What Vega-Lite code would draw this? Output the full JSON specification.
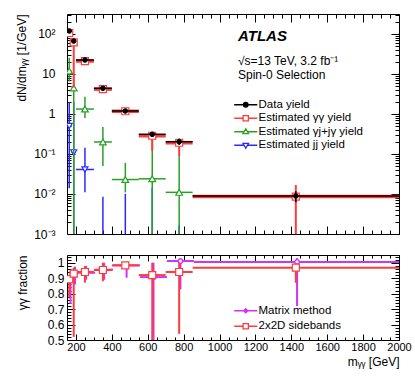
{
  "$schema": "https://vega.github.io/schema/vega-lite/v6.json",
  "background": "white",
  "padding": {"left": 14, "top": 13, "right": 21, "bottom": 5},
  "spacing": 13,
  "resolve": {"scale": {"shape": "independent", "stroke": "independent", "fill": "independent"}, "legend": {"shape": "independent", "stroke": "independent", "fill": "independent"}},
  "config": {
    "font": "Liberation Sans",
    "view": {"stroke": "black", "strokeWidth": 1},
    "axis": {"domain": false, "grid": false, "labelFont": "Liberation Sans", "labelFontSize": 12, "labelColor": "black", "tickColor": "black", "tickWidth": 1, "titleFont": "Liberation Sans", "titleFontSize": 12, "titleFontWeight": "normal", "titleColor": "black", "labelFlush": false, "labelOverlap": false}
  },
  "datasets": {
    "yields": [
      {"s": "Data yield", "x": 162.5, "xlo": 150, "xhi": 175, "y": 119, "ylo": 116, "yhi": 122},
      {"s": "Data yield", "x": 187.5, "xlo": 175, "xhi": 200, "y": 66.8, "ylo": 65.1, "yhi": 68.5},
      {"s": "Data yield", "x": 250, "xlo": 200, "xhi": 300, "y": 22.4, "ylo": 21.9, "yhi": 22.9},
      {"s": "Data yield", "x": 350, "xlo": 300, "xhi": 400, "y": 4.39, "ylo": 4.18, "yhi": 4.6},
      {"s": "Data yield", "x": 475, "xlo": 400, "xhi": 550, "y": 1.19, "ylo": 1.1, "yhi": 1.28},
      {"s": "Data yield", "x": 625, "xlo": 550, "xhi": 700, "y": 0.311, "ylo": 0.265, "yhi": 0.357},
      {"s": "Data yield", "x": 775, "xlo": 700, "xhi": 850, "y": 0.203, "ylo": 0.167, "yhi": 0.24},
      {"s": "Data yield", "x": 1425, "xlo": 850, "xhi": 2000, "y": 0.0089, "ylo": 0.0062, "yhi": 0.0117},
      {"s": "Estimated γγ yield", "x": 162.5, "xlo": 150, "xhi": 175, "y": 106, "ylo": 92, "yhi": 110},
      {"s": "Estimated γγ yield", "x": 187.5, "xlo": 175, "xhi": 200, "y": 62, "ylo": 4.6, "yhi": 64.6},
      {"s": "Estimated γγ yield", "x": 250, "xlo": 200, "xhi": 300, "y": 21.1, "ylo": 19.5, "yhi": 21.9},
      {"s": "Estimated γγ yield", "x": 350, "xlo": 300, "xhi": 400, "y": 4.18, "ylo": 3.86, "yhi": 4.39},
      {"s": "Estimated γγ yield", "x": 475, "xlo": 400, "xhi": 550, "y": 1.17, "ylo": 1.15, "yhi": 1.19},
      {"s": "Estimated γγ yield", "x": 625, "xlo": 550, "xhi": 700, "y": 0.286, "ylo": 0.12, "yhi": 0.311},
      {"s": "Estimated γγ yield", "x": 775, "xlo": 700, "xhi": 850, "y": 0.191, "ylo": 0.09, "yhi": 0.203},
      {"s": "Estimated γγ yield", "x": 1425, "xlo": 850, "xhi": 2000, "y": 0.0086, "ylo": 0.0001, "yhi": 0.0168},
      {"s": "Estimated γj+jγ yield", "x": 162.5, "xlo": 150, "xhi": 175, "y": 11.9, "ylo": 6.5, "yhi": 25.6},
      {"s": "Estimated γj+jγ yield", "x": 187.5, "xlo": 175, "xhi": 200, "y": 4.5, "ylo": 0.0001, "yhi": 9},
      {"s": "Estimated γj+jγ yield", "x": 250, "xlo": 200, "xhi": 300, "y": 1.33, "ylo": 0.79, "yhi": 2.7},
      {"s": "Estimated γj+jγ yield", "x": 350, "xlo": 300, "xhi": 400, "y": 0.2, "ylo": 0.05, "yhi": 0.47},
      {"s": "Estimated γj+jγ yield", "x": 475, "xlo": 400, "xhi": 550, "y": 0.023, "ylo": 0.011, "yhi": 0.06},
      {"s": "Estimated γj+jγ yield", "x": 625, "xlo": 550, "xhi": 700, "y": 0.024, "ylo": 0.0001, "yhi": 0.3},
      {"s": "Estimated γj+jγ yield", "x": 775, "xlo": 700, "xhi": 850, "y": 0.011, "ylo": 0.0001, "yhi": 0.094},
      {"s": "Estimated jj yield", "x": 162.5, "xlo": 150, "xhi": 175, "y": 0.5, "ylo": 0.014, "yhi": 2.0},
      {"s": "Estimated jj yield", "x": 187.5, "xlo": 175, "xhi": 200, "y": 0.11, "ylo": 0.0001, "yhi": 2.0},
      {"s": "Estimated jj yield", "x": 250, "xlo": 200, "xhi": 300, "y": 0.041, "ylo": 0.011, "yhi": 0.144},
      {"s": "Estimated jj yield", "x": 350, "xlo": 300, "xhi": 400, "y": 0.0003, "ylo": 0.0001, "yhi": 0.0085},
      {"s": "Estimated jj yield", "x": 475, "xlo": 400, "xhi": 550, "y": 0.0003, "ylo": 0.0001, "yhi": 0.0101},
      {"s": "Estimated jj yield", "x": 625, "xlo": 550, "xhi": 700, "y": 0.0003, "ylo": 0.0001, "yhi": 0.0144},
      {"s": "Estimated jj yield", "x": 775, "xlo": 700, "xhi": 850, "y": 0.0003, "ylo": 0.0001, "yhi": 0.0016}
    ],
    "frac": [
      {"s": "2x2D sidebands", "x": 162.5, "xlo": 150, "xhi": 175, "y": 0.893, "ylo": 0.774, "yhi": 0.92},
      {"s": "2x2D sidebands", "x": 187.5, "xlo": 175, "xhi": 200, "y": 0.929, "ylo": 0.52, "yhi": 0.968},
      {"s": "2x2D sidebands", "x": 250, "xlo": 200, "xhi": 300, "y": 0.94, "ylo": 0.871, "yhi": 0.979},
      {"s": "2x2D sidebands", "x": 350, "xlo": 300, "xhi": 400, "y": 0.953, "ylo": 0.88, "yhi": 1.0},
      {"s": "2x2D sidebands", "x": 475, "xlo": 400, "xhi": 550, "y": 0.983, "ylo": 0.97, "yhi": 0.995},
      {"s": "2x2D sidebands", "x": 625, "xlo": 550, "xhi": 700, "y": 0.92, "ylo": 0.3, "yhi": 1.0},
      {"s": "2x2D sidebands", "x": 775, "xlo": 700, "xhi": 850, "y": 0.94, "ylo": 0.54, "yhi": 1.0},
      {"s": "2x2D sidebands", "x": 1425, "xlo": 850, "xhi": 2000, "y": 0.968, "ylo": 0.87, "yhi": 0.998},
      {"s": "Matrix method", "x": 169.5, "xlo": 157, "xhi": 182, "y": 0.89, "ylo": 0.733, "yhi": 0.946},
      {"s": "Matrix method", "x": 194.5, "xlo": 182, "xhi": 207, "y": 0.93, "ylo": 0.86, "yhi": 0.975},
      {"s": "Matrix method", "x": 257, "xlo": 207, "xhi": 307, "y": 0.935, "ylo": 0.89, "yhi": 0.98},
      {"s": "Matrix method", "x": 357, "xlo": 307, "xhi": 407, "y": 0.955, "ylo": 0.89, "yhi": 1.0},
      {"s": "Matrix method", "x": 482, "xlo": 407, "xhi": 557, "y": 0.983, "ylo": 0.903, "yhi": 1.0},
      {"s": "Matrix method", "x": 632, "xlo": 557, "xhi": 707, "y": 0.907, "ylo": 0.3, "yhi": 1.0},
      {"s": "Matrix method", "x": 782, "xlo": 707, "xhi": 857, "y": 1.011, "ylo": 0.828, "yhi": 1.03},
      {"s": "Matrix method", "x": 1432, "xlo": 857, "xhi": 2000, "y": 1.005, "ylo": 0.72, "yhi": 1.03}
    ]
  },
  "vconcat": [
    {
      "width": 332,
      "height": 220,
      "title": {"text": "ATLAS", "subtitle": ["√s=13 TeV, 3.2 fb⁻¹", "Spin-0 Selection"], "anchor": "start", "frame": "group", "orient": "top", "dx": 171, "offset": -67, "font": "Liberation Sans", "fontSize": 15, "fontStyle": "italic", "fontWeight": "bold", "color": "black", "subtitleFont": "Liberation Sans", "subtitleFontSize": 12, "subtitleColor": "black", "subtitleLineHeight": 14, "subtitlePadding": 12},
      "data": {"name": "yields"},
      "resolve": {"axis": {"x": "independent", "y": "independent"}},
      "layer": [
        {
          "transform": [{"filter": "datum.s == 'Estimated jj yield'"}],
          "mark": {"type": "rule", "color": "#2a2aff", "strokeWidth": 1.5, "clip": true},
          "encoding": {
            "x": {"field": "xlo", "type": "quantitative", "scale": {"type": "linear", "domain": [150, 2000], "nice": false, "zero": false}, "axis": {"orient": "bottom", "offset": 0, "values": [200, 400, 600, 800, 1000, 1200, 1400, 1600, 1800, 2000], "labels": false, "tickSize": -8, "title": null}},
            "x2": {"field": "xhi"},
            "y": {"field": "y", "type": "quantitative", "scale": {"type": "log", "domain": [0.001, 316.2], "nice": false}, "axis": {"orient": "left", "offset": 0, "values": [0.001, 0.01, 0.1, 1, 10, 100], "labelExpr": "datum.value < 0.002 ? '10⁻³' : datum.value < 0.02 ? '10⁻²' : datum.value < 0.2 ? '10⁻¹' : datum.value < 2 ? '1' : datum.value < 20 ? '10' : '10²'", "tickSize": -8, "labelPadding": 20, "title": "dN/dmᵧᵧ [1/GeV]", "titleX": -46, "titleY": 0, "titleAlign": "right", "titleAngle": -90, "titleBaseline": "middle"}}
          }
        },
        {
          "transform": [{"filter": "datum.s == 'Estimated jj yield'"}],
          "mark": {"type": "rule", "color": "#2a2aff", "strokeWidth": 1.5, "clip": true},
          "encoding": {
            "x": {"field": "x", "type": "quantitative", "scale": {"type": "linear", "domain": [150, 2000], "nice": false, "zero": false}, "axis": {"orient": "bottom", "offset": 0, "values": [200, 250, 300, 350, 400, 450, 500, 550, 600, 650, 700, 750, 800, 850, 900, 950, 1000, 1050, 1100, 1150, 1200, 1250, 1300, 1350, 1400, 1450, 1500, 1550, 1600, 1650, 1700, 1750, 1800, 1850, 1900, 1950, 2000], "labels": false, "tickSize": -4, "title": null}},
            "y": {"field": "ylo", "type": "quantitative", "scale": {"type": "log", "domain": [0.001, 316.2], "nice": false}, "axis": {"orient": "left", "offset": 0, "values": [0.002, 0.003, 0.004, 0.005, 0.006, 0.007, 0.008, 0.009, 0.02, 0.03, 0.04, 0.05, 0.06, 0.07, 0.08, 0.09, 0.2, 0.3, 0.4, 0.5, 0.6, 0.7, 0.8, 0.9, 2, 3, 4, 5, 6, 7, 8, 9, 20, 30, 40, 50, 60, 70, 80, 90, 200, 300], "labels": false, "tickSize": -4, "title": null}},
            "y2": {"field": "yhi"}
          }
        },
        {
          "transform": [{"filter": "datum.s == 'Estimated jj yield'"}],
          "mark": {"type": "point", "shape": "triangle-down", "size": 36, "filled": true, "fill": "white", "stroke": "#2a2aff", "strokeWidth": 1.2, "opacity": 1, "clip": true},
          "encoding": {
            "x": {"field": "x", "type": "quantitative", "scale": {"type": "linear", "domain": [150, 2000], "nice": false, "zero": false}, "axis": {"orient": "top", "offset": 0, "values": [200, 400, 600, 800, 1000, 1200, 1400, 1600, 1800, 2000], "labels": false, "tickSize": -8, "title": null}},
            "y": {"field": "y", "type": "quantitative", "scale": {"type": "log", "domain": [0.001, 316.2], "nice": false}, "axis": {"orient": "right", "offset": 0, "values": [0.001, 0.01, 0.1, 1, 10, 100], "labels": false, "tickSize": -8, "title": null}}
          }
        },
        {
          "transform": [{"filter": "datum.s == 'Estimated γj+jγ yield'"}],
          "mark": {"type": "rule", "color": "#28a028", "strokeWidth": 1.5, "clip": true},
          "encoding": {
            "x": {"field": "xlo", "type": "quantitative", "scale": {"type": "linear", "domain": [150, 2000], "nice": false, "zero": false}, "axis": {"orient": "top", "offset": 0, "values": [200, 250, 300, 350, 400, 450, 500, 550, 600, 650, 700, 750, 800, 850, 900, 950, 1000, 1050, 1100, 1150, 1200, 1250, 1300, 1350, 1400, 1450, 1500, 1550, 1600, 1650, 1700, 1750, 1800, 1850, 1900, 1950, 2000], "labels": false, "tickSize": -4, "title": null}},
            "x2": {"field": "xhi"},
            "y": {"field": "y", "type": "quantitative", "scale": {"type": "log", "domain": [0.001, 316.2], "nice": false}, "axis": {"orient": "right", "offset": 0, "values": [0.002, 0.003, 0.004, 0.005, 0.006, 0.007, 0.008, 0.009, 0.02, 0.03, 0.04, 0.05, 0.06, 0.07, 0.08, 0.09, 0.2, 0.3, 0.4, 0.5, 0.6, 0.7, 0.8, 0.9, 2, 3, 4, 5, 6, 7, 8, 9, 20, 30, 40, 50, 60, 70, 80, 90, 200, 300], "labels": false, "tickSize": -4, "title": null}}
          }
        },
        {
          "transform": [{"filter": "datum.s == 'Estimated γj+jγ yield'"}],
          "mark": {"type": "rule", "color": "#28a028", "strokeWidth": 1.5, "clip": true},
          "encoding": {
            "x": {"field": "x", "type": "quantitative", "scale": {"type": "linear", "domain": [150, 2000], "nice": false, "zero": false}, "axis": null},
            "y": {"field": "ylo", "type": "quantitative", "scale": {"type": "log", "domain": [0.001, 316.2], "nice": false}, "axis": null},
            "y2": {"field": "yhi"}
          }
        },
        {
          "transform": [{"filter": "datum.s == 'Estimated γj+jγ yield'"}],
          "mark": {"type": "point", "shape": "triangle-up", "size": 45, "filled": true, "fill": "white", "stroke": "#28a028", "strokeWidth": 1.2, "opacity": 1, "clip": true},
          "encoding": {
            "x": {"field": "x", "type": "quantitative", "scale": {"type": "linear", "domain": [150, 2000], "nice": false, "zero": false}, "axis": null},
            "y": {"field": "y", "type": "quantitative", "scale": {"type": "log", "domain": [0.001, 316.2], "nice": false}, "axis": null}
          }
        },
        {
          "transform": [{"filter": "datum.s == 'Estimated γγ yield'"}],
          "mark": {"type": "rule", "color": "#ff3c3c", "strokeWidth": 3.5, "clip": true},
          "encoding": {
            "x": {"field": "xlo", "type": "quantitative", "scale": {"type": "linear", "domain": [150, 2000], "nice": false, "zero": false}, "axis": null},
            "x2": {"field": "xhi"},
            "y": {"field": "y", "type": "quantitative", "scale": {"type": "log", "domain": [0.001, 316.2], "nice": false}, "axis": null}
          }
        },
        {
          "transform": [{"filter": "datum.s == 'Estimated γγ yield'"}],
          "mark": {"type": "rule", "color": "#ff3c3c", "strokeWidth": 2, "clip": true},
          "encoding": {
            "x": {"field": "x", "type": "quantitative", "scale": {"type": "linear", "domain": [150, 2000], "nice": false, "zero": false}, "axis": null},
            "y": {"field": "ylo", "type": "quantitative", "scale": {"type": "log", "domain": [0.001, 316.2], "nice": false}, "axis": null},
            "y2": {"field": "yhi"}
          }
        },
        {
          "transform": [{"filter": "datum.s == 'Estimated γγ yield'"}],
          "mark": {"type": "point", "shape": "square", "size": 49, "filled": true, "fill": "white", "stroke": "#ff3c3c", "strokeWidth": 1.2, "opacity": 1, "clip": true},
          "encoding": {
            "x": {"field": "x", "type": "quantitative", "scale": {"type": "linear", "domain": [150, 2000], "nice": false, "zero": false}, "axis": null},
            "y": {"field": "y", "type": "quantitative", "scale": {"type": "log", "domain": [0.001, 316.2], "nice": false}, "axis": null}
          }
        },
        {
          "transform": [{"filter": "datum.s == 'Data yield'"}],
          "mark": {"type": "rule", "color": "black", "strokeWidth": 1.5, "clip": true},
          "encoding": {
            "x": {"field": "xlo", "type": "quantitative", "scale": {"type": "linear", "domain": [150, 2000], "nice": false, "zero": false}, "axis": null},
            "x2": {"field": "xhi"},
            "y": {"field": "y", "type": "quantitative", "scale": {"type": "log", "domain": [0.001, 316.2], "nice": false}, "axis": null}
          }
        },
        {
          "transform": [{"filter": "datum.s == 'Data yield'"}],
          "mark": {"type": "rule", "color": "black", "strokeWidth": 1.5, "clip": true},
          "encoding": {
            "x": {"field": "x", "type": "quantitative", "scale": {"type": "linear", "domain": [150, 2000], "nice": false, "zero": false}, "axis": null},
            "y": {"field": "ylo", "type": "quantitative", "scale": {"type": "log", "domain": [0.001, 316.2], "nice": false}, "axis": null},
            "y2": {"field": "yhi"}
          }
        },
        {
          "transform": [{"filter": "datum.s == 'Data yield'"}],
          "mark": {"type": "point", "shape": "circle", "size": 22, "filled": true, "fill": "black", "stroke": "black", "strokeWidth": 1, "opacity": 1, "clip": true},
          "encoding": {
            "x": {"field": "x", "type": "quantitative", "scale": {"type": "linear", "domain": [150, 2000], "nice": false, "zero": false}, "axis": null},
            "y": {"field": "y", "type": "quantitative", "scale": {"type": "log", "domain": [0.001, 316.2], "nice": false}, "axis": null}
          }
        },
        {
          "transform": [{"filter": "false"}],
          "mark": {"type": "point", "filled": true, "opacity": 1, "strokeWidth": 1.3},
          "encoding": {
            "x": {"field": "x", "type": "quantitative", "scale": {"type": "linear", "domain": [150, 2000], "nice": false, "zero": false}, "axis": null},
            "y": {"field": "y", "type": "quantitative", "scale": {"type": "log", "domain": [0.001, 316.2], "nice": false}, "axis": null},
            "shape": {"field": "s", "type": "nominal", "scale": {"domain": ["Data yield", "Estimated γγ yield", "Estimated γj+jγ yield", "Estimated jj yield"], "range": ["M-3.3,0H3.3M0.65,0A0.65,0.65,0,1,1,-0.65,0A0.65,0.65,0,1,1,0.65,0Z", "M-3.3,0H-0.75M0.75,0H3.3M-0.75,-0.75H0.75V0.75H-0.75Z", "M-3.3,0H-0.45M0.45,0H3.3M0,-0.85L0.8,0.55H-0.8Z", "M-3.3,0H-0.45M0.45,0H3.3M0,0.85L0.8,-0.55H-0.8Z"]}, "legend": {"orient": "none", "legendX": 173, "legendY": 85, "title": null, "symbolSize": 49, "symbolStrokeWidth": 1.3, "labelFont": "Liberation Sans", "labelFontSize": 11.5, "labelColor": "black", "labelOffset": 7, "rowPadding": 0.5, "labelLimit": 300, "padding": 0}},
            "stroke": {"field": "s", "type": "nominal", "scale": {"domain": ["Data yield", "Estimated γγ yield", "Estimated γj+jγ yield", "Estimated jj yield"], "range": ["black", "#ff3c3c", "#28a028", "#2a2aff"]}, "legend": {"orient": "none", "legendX": 173, "legendY": 85, "title": null, "symbolSize": 49, "symbolStrokeWidth": 1.3, "labelFont": "Liberation Sans", "labelFontSize": 11.5, "labelColor": "black", "labelOffset": 7, "rowPadding": 0.5, "labelLimit": 300, "padding": 0}},
            "fill": {"field": "s", "type": "nominal", "scale": {"domain": ["Data yield", "Estimated γγ yield", "Estimated γj+jγ yield", "Estimated jj yield"], "range": ["black", "white", "white", "white"]}, "legend": {"orient": "none", "legendX": 173, "legendY": 85, "title": null, "symbolSize": 49, "symbolStrokeWidth": 1.3, "labelFont": "Liberation Sans", "labelFontSize": 11.5, "labelColor": "black", "labelOffset": 7, "rowPadding": 0.5, "labelLimit": 300, "padding": 0}}
          }
        }
      ]
    },
    {
      "width": 332,
      "height": 85,
      "data": {"name": "frac"},
      "resolve": {"axis": {"x": "independent", "y": "independent"}},
      "layer": [
        {
          "transform": [{"filter": "datum.s == 'Matrix method'"}],
          "mark": {"type": "rule", "color": "#cc33ff", "strokeWidth": 2, "clip": true},
          "encoding": {
            "x": {"field": "xlo", "type": "quantitative", "scale": {"type": "linear", "domain": [150, 2000], "nice": false, "zero": false}, "axis": {"orient": "bottom", "offset": 0, "values": [200, 400, 600, 800, 1000, 1200, 1400, 1600, 1800, 2000], "format": "d", "labelFontSize": 11, "tickSize": -6, "labelPadding": 7, "title": "mᵧᵧ [GeV]", "titleX": 332, "titleY": 25, "titleAlign": "right", "titleBaseline": "alphabetic"}},
            "x2": {"field": "xhi"},
            "y": {"field": "y", "type": "quantitative", "scale": {"type": "linear", "domain": [0.5, 1.05], "nice": false, "zero": false}, "axis": {"orient": "left", "offset": 0, "values": [0.5, 0.6, 0.7, 0.8, 0.9, 1], "format": "~g", "tickSize": -8, "labelPadding": 11, "title": "γγ fraction", "titleX": -45, "titleY": 0, "titleAlign": "right", "titleAngle": -90, "titleBaseline": "middle"}}
          }
        },
        {
          "transform": [{"filter": "datum.s == 'Matrix method'"}],
          "mark": {"type": "rule", "color": "#cc33ff", "strokeWidth": 2, "clip": true},
          "encoding": {
            "x": {"field": "x", "type": "quantitative", "scale": {"type": "linear", "domain": [150, 2000], "nice": false, "zero": false}, "axis": {"orient": "bottom", "offset": 0, "values": [200, 250, 300, 350, 400, 450, 500, 550, 600, 650, 700, 750, 800, 850, 900, 950, 1000, 1050, 1100, 1150, 1200, 1250, 1300, 1350, 1400, 1450, 1500, 1550, 1600, 1650, 1700, 1750, 1800, 1850, 1900, 1950, 2000], "labels": false, "tickSize": -3, "title": null}},
            "y": {"field": "ylo", "type": "quantitative", "scale": {"type": "linear", "domain": [0.5, 1.05], "nice": false, "zero": false}, "axis": {"orient": "left", "offset": 0, "values": [0.52, 0.54, 0.56, 0.58, 0.6, 0.62, 0.64, 0.66, 0.68, 0.7, 0.72, 0.74, 0.76, 0.78, 0.8, 0.82, 0.84, 0.86, 0.88, 0.9, 0.92, 0.94, 0.96, 0.98, 1, 1.02, 1.04], "labels": false, "tickSize": -4, "title": null}},
            "y2": {"field": "yhi"}
          }
        },
        {
          "transform": [{"filter": "datum.s == 'Matrix method'"}],
          "mark": {"type": "point", "shape": "circle", "size": 20, "filled": true, "fill": "white", "stroke": "#cc33ff", "strokeWidth": 1.2, "opacity": 1, "clip": true},
          "encoding": {
            "x": {"field": "x", "type": "quantitative", "scale": {"type": "linear", "domain": [150, 2000], "nice": false, "zero": false}, "axis": {"orient": "top", "offset": 0, "values": [200, 400, 600, 800, 1000, 1200, 1400, 1600, 1800, 2000], "labels": false, "tickSize": -6, "title": null}},
            "y": {"field": "y", "type": "quantitative", "scale": {"type": "linear", "domain": [0.5, 1.05], "nice": false, "zero": false}, "axis": {"orient": "right", "offset": 0, "values": [0.5, 0.6, 0.7, 0.8, 0.9, 1], "labels": false, "tickSize": -8, "title": null}}
          }
        },
        {
          "transform": [{"filter": "datum.s == '2x2D sidebands'"}],
          "mark": {"type": "rule", "color": "#ff3c3c", "strokeWidth": 2, "clip": true},
          "encoding": {
            "x": {"field": "xlo", "type": "quantitative", "scale": {"type": "linear", "domain": [150, 2000], "nice": false, "zero": false}, "axis": {"orient": "top", "offset": 0, "values": [200, 250, 300, 350, 400, 450, 500, 550, 600, 650, 700, 750, 800, 850, 900, 950, 1000, 1050, 1100, 1150, 1200, 1250, 1300, 1350, 1400, 1450, 1500, 1550, 1600, 1650, 1700, 1750, 1800, 1850, 1900, 1950, 2000], "labels": false, "tickSize": -3, "title": null}},
            "x2": {"field": "xhi"},
            "y": {"field": "y", "type": "quantitative", "scale": {"type": "linear", "domain": [0.5, 1.05], "nice": false, "zero": false}, "axis": {"orient": "right", "offset": 0, "values": [0.52, 0.54, 0.56, 0.58, 0.6, 0.62, 0.64, 0.66, 0.68, 0.7, 0.72, 0.74, 0.76, 0.78, 0.8, 0.82, 0.84, 0.86, 0.88, 0.9, 0.92, 0.94, 0.96, 0.98, 1, 1.02, 1.04], "labels": false, "tickSize": -4, "title": null}}
          }
        },
        {
          "transform": [{"filter": "datum.s == '2x2D sidebands'"}],
          "mark": {"type": "rule", "color": "#ff3c3c", "strokeWidth": 2, "clip": true},
          "encoding": {
            "x": {"field": "x", "type": "quantitative", "scale": {"type": "linear", "domain": [150, 2000], "nice": false, "zero": false}, "axis": null},
            "y": {"field": "ylo", "type": "quantitative", "scale": {"type": "linear", "domain": [0.5, 1.05], "nice": false, "zero": false}, "axis": null},
            "y2": {"field": "yhi"}
          }
        },
        {
          "transform": [{"filter": "datum.s == '2x2D sidebands'"}],
          "mark": {"type": "point", "shape": "square", "size": 49, "filled": true, "fill": "white", "stroke": "#ff3c3c", "strokeWidth": 1.2, "opacity": 1, "clip": true},
          "encoding": {
            "x": {"field": "x", "type": "quantitative", "scale": {"type": "linear", "domain": [150, 2000], "nice": false, "zero": false}, "axis": null},
            "y": {"field": "y", "type": "quantitative", "scale": {"type": "linear", "domain": [0.5, 1.05], "nice": false, "zero": false}, "axis": null}
          }
        },
        {
          "transform": [{"filter": "false"}],
          "mark": {"type": "point", "filled": true, "opacity": 1, "strokeWidth": 1.3},
          "encoding": {
            "x": {"field": "x", "type": "quantitative", "scale": {"type": "linear", "domain": [150, 2000], "nice": false, "zero": false}, "axis": null},
            "y": {"field": "y", "type": "quantitative", "scale": {"type": "linear", "domain": [0.5, 1.05], "nice": false, "zero": false}, "axis": null},
            "shape": {"field": "s", "type": "nominal", "scale": {"domain": ["Matrix method", "2x2D sidebands"], "range": ["M-3.3,0H3.3M0,-0.6L0.6,0L0,0.6L-0.6,0Z", "M-3.3,0H-0.75M0.75,0H3.3M-0.75,-0.75H0.75V0.75H-0.75Z"]}, "legend": {"orient": "none", "legendX": 173, "legendY": 50, "title": null, "symbolSize": 49, "symbolStrokeWidth": 1.3, "labelFont": "Liberation Sans", "labelFontSize": 11.5, "labelColor": "black", "labelOffset": 7, "rowPadding": 2.5, "labelLimit": 300, "padding": 0}},
            "stroke": {"field": "s", "type": "nominal", "scale": {"domain": ["Matrix method", "2x2D sidebands"], "range": ["#cc33ff", "#ff3c3c"]}, "legend": {"orient": "none", "legendX": 173, "legendY": 50, "title": null, "symbolSize": 49, "symbolStrokeWidth": 1.3, "labelFont": "Liberation Sans", "labelFontSize": 11.5, "labelColor": "black", "labelOffset": 7, "rowPadding": 2.5, "labelLimit": 300, "padding": 0}},
            "fill": {"field": "s", "type": "nominal", "scale": {"domain": ["Matrix method", "2x2D sidebands"], "range": ["#cc33ff", "white"]}, "legend": {"orient": "none", "legendX": 173, "legendY": 50, "title": null, "symbolSize": 49, "symbolStrokeWidth": 1.3, "labelFont": "Liberation Sans", "labelFontSize": 11.5, "labelColor": "black", "labelOffset": 7, "rowPadding": 2.5, "labelLimit": 300, "padding": 0}}
          }
        }
      ]
    }
  ]
}
